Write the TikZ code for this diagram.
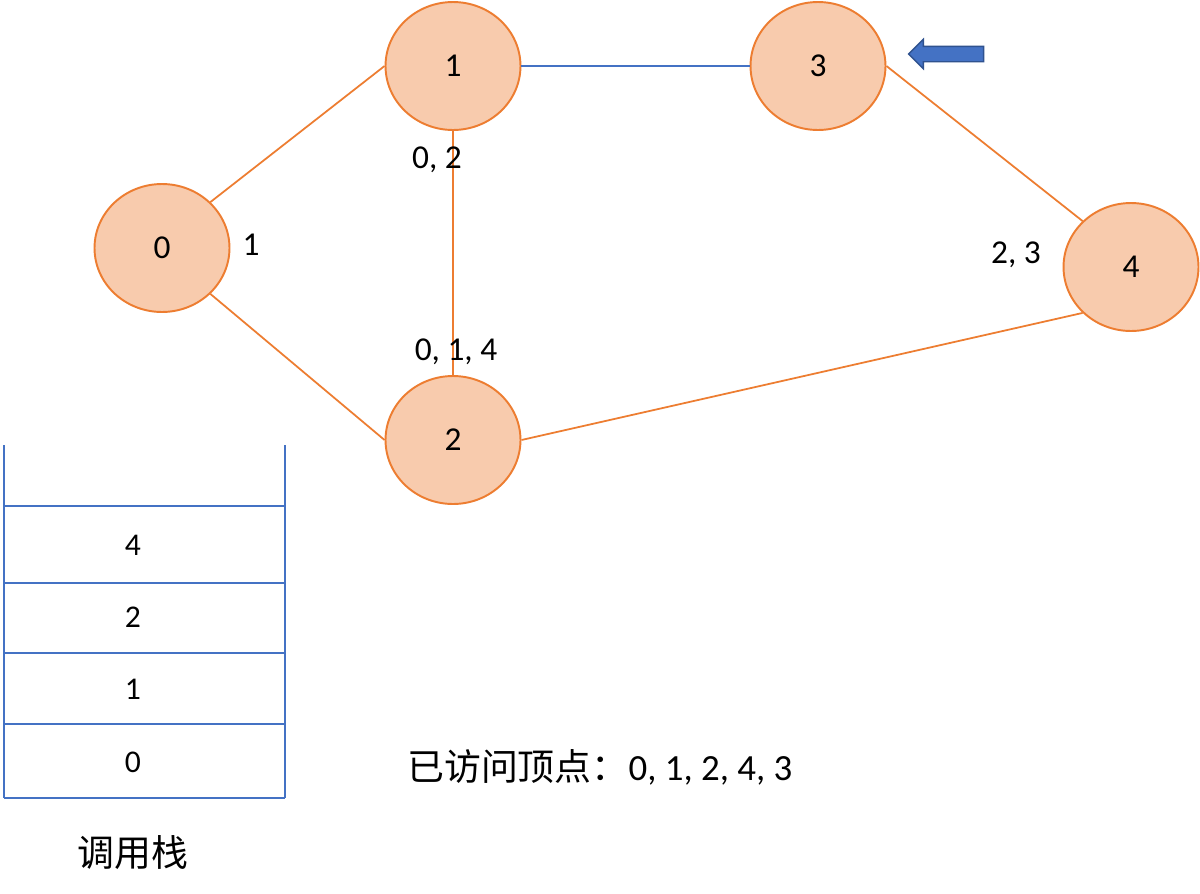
\documentclass[tikz,border=0pt]{standalone}
\usepackage{fontspec}
\setmainfont{Carlito}
\newfontfamily\cjk{Noto Sans CJK SC}
\usepackage{tikz}
\usetikzlibrary{shapes,arrows.meta,positioning}
\usepackage{xcolor}
\definecolor{peach}{HTML}{F8CBAD}
\definecolor{darkorange}{HTML}{ED7D31}
\definecolor{officeblue}{HTML}{4472C4}
\definecolor{deepblue}{HTML}{2F528F}

\begin{document}
\begin{tikzpicture}[x=0.02cm, y=-0.02cm,
    vert/.style={ellipse, draw=darkorange, fill=peach, line width=1.1pt, minimum width=2.7cm, minimum height=2.56cm, inner sep=0pt, font=\fontsize{19}{22}\selectfont},
    edg/.style={draw=darkorange, line width=1pt},
    bedg/.style={draw=officeblue, line width=1pt},
    lbl/.style={font=\fontsize{19}{22}\selectfont},
    cell/.style={font=\fontsize{18}{21}\selectfont},
    stk/.style={draw=officeblue, line width=1.2pt},
    pointer/.style={single arrow, draw=deepblue, fill=officeblue, line width=0.8pt, shape border rotate=180, minimum height=1.5cm, inner sep=0.14cm, single arrow head extend=0.14cm, single arrow head indent=0pt}
]
\useasboundingbox[fill=white] (0,0) rectangle (1200,893);

\foreach \i/\x/\y in {0/162/248, 1/453/66, 2/453/440, 3/818/66, 4/1131/267} {
    \node[vert] (V\i) at (\x, \y) {\i};
}

% edges
\draw[edg] (V0.north east) -- (V1.west);
\draw[edg] (V0.south east) -- (V2.west);
\draw[edg] (V1.south) -- (V2.north);
\draw[bedg] (V1.east) -- (V3.west);
\draw[edg] (V3.east) -- (V4.north west);
\draw[edg] (V2.east) -- (V4.south west);

% adjacency notes
\node[lbl] (L0) at (251, 245) {1};
\node[lbl] (L1) at (437, 160) {0, 2};
\node[lbl] (L2) at (456, 352) {0, 1, 4};
\node[lbl] (L4) at (1016, 255) {2, 3};

\node[pointer] (ptr) at (950, 54) {};

% call stack
\draw[stk] (4, 445) -- (4, 798);
\draw[stk] (285, 445) -- (285, 798);
\foreach \y in {506, 583, 653, 724, 798}
    \draw[stk] (4, \y) -- (285, \y);
\foreach \i/\y/\lab in {a/545/4, b/617/2, c/689/1, d/762/0} {
    \node[cell] (S\i) at (133, \y) {\lab};
}
\node[font=\fontsize{21}{25}\selectfont\cjk] (stackname) at (133, 853) {调用栈};

\node[font=\fontsize{21}{25}\selectfont, anchor=west] (visited) at (401, 767) {{\cjk 已访问顶点：}0, 1, 2, 4, 3};
\end{tikzpicture}
\end{document}
